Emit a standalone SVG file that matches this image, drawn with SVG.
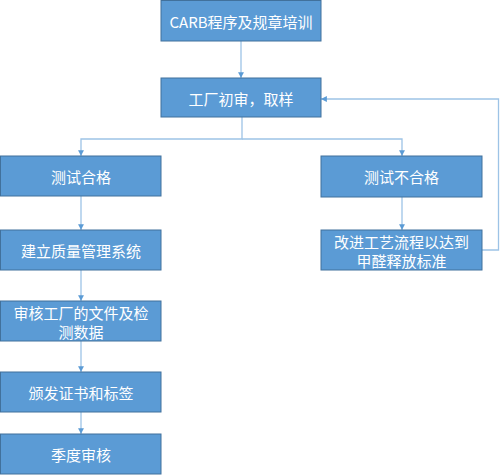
<svg xmlns="http://www.w3.org/2000/svg" width="500" height="475" viewBox="0 0 500 475">
<defs>
<style>
.box{fill:#5B9BD5;stroke:#41719C;stroke-width:1}
.t{fill:#fff;font-family:"Noto Sans CJK SC","Liberation Sans",sans-serif;font-size:15px;text-anchor:middle;dominant-baseline:central}
.c{fill:none;stroke:#9DC3E6;stroke-width:1.3}
</style>
<marker id="ah" viewBox="0 0 10 10" refX="10" refY="5" markerWidth="4.5" markerHeight="4.5" orient="auto">
<path d="M0,0 L10,5 L0,10 Z" fill="#5B9BD5"/>
</marker>
</defs>
<rect width="500" height="475" fill="#fff"/>
<g id="connectors">
<path class="c" d="M241,41 V78" marker-end="url(#ah)"/>
<path class="c" d="M242,117 V139 H81 V156" marker-end="url(#ah)"/>
<path class="c" d="M242,139 H402 V156" marker-end="url(#ah)"/>
<path class="c" d="M81,196 V230" marker-end="url(#ah)"/>
<path class="c" d="M81,270 V301" marker-end="url(#ah)"/>
<path class="c" d="M81,341 V372" marker-end="url(#ah)"/>
<path class="c" d="M81,412 V434" marker-end="url(#ah)"/>
<path class="c" d="M402,197 V230" marker-end="url(#ah)"/>
<path class="c" d="M482,250 H498.5 V99 H321" marker-end="url(#ah)"/>
</g>
<g id="n1"><rect class="box" x="161" y="0.5" width="160" height="40.5"/><text class="t" x="241" y="21">CARB程序及规章培训</text></g>
<g id="n2"><rect class="box" x="161" y="78" width="160" height="39"/><text class="t" x="241" y="98">工厂初审，取样</text></g>
<g id="n3"><rect class="box" x="0.5" y="156" width="160.5" height="40"/><text class="t" x="81" y="176">测试合格</text></g>
<g id="n4"><rect class="box" x="0.5" y="230" width="160.5" height="40"/><text class="t" x="81" y="250">建立质量管理系统</text></g>
<g id="n5"><rect class="box" x="0.5" y="301" width="160.5" height="40"/><text class="t" x="81" y="312">审核工厂的文件及检</text><text class="t" x="81" y="331">测数据</text></g>
<g id="n6"><rect class="box" x="0.5" y="372" width="160.5" height="40"/><text class="t" x="81" y="392">颁发证书和标签</text></g>
<g id="n7"><rect class="box" x="0.5" y="434" width="160.5" height="40"/><text class="t" x="81" y="454">季度审核</text></g>
<g id="n8"><rect class="box" x="321" y="156" width="161" height="41"/><text class="t" x="401.5" y="176.5">测试不合格</text></g>
<g id="n9"><rect class="box" x="321" y="230" width="161" height="40"/><text class="t" x="401.5" y="241">改进工艺流程以达到</text><text class="t" x="401.5" y="260">甲醛释放标准</text></g>
</svg>
